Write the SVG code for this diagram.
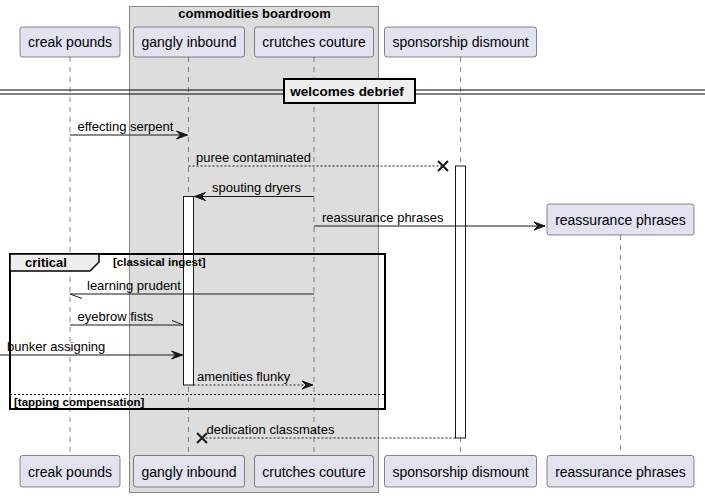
<svg xmlns="http://www.w3.org/2000/svg" width="705" height="497" viewBox="0 0 705 497">
<defs>
<style>
text{font-family:"Liberation Sans",Arial,sans-serif;fill:#000}
.pbox{fill:#E2E2F0;stroke:#181818;stroke-width:0.5}
.pt{font-size:14px;text-anchor:middle}
.life{stroke:#181818;stroke-width:0.5;stroke-dasharray:5,5;fill:none}
.msg{stroke:#181818;stroke-width:1;fill:none}
.dot{stroke:#181818;stroke-width:1;stroke-dasharray:2,2;fill:none}
.mt{font-size:13px}
.act{fill:#FFFFFF;stroke:#181818;stroke-width:1}
.head{fill:#181818;stroke:#181818;stroke-width:1}
.x{stroke:#181818;stroke-width:2;fill:none}
.b11{font-size:11.5px;font-weight:bold}
</style>
</defs>
<g id="group-commodities-boardroom">
<rect x="129.5" y="6.5" width="249" height="486" fill="#DDDDDD" stroke="#888888" stroke-width="1"/>
<text x="254.5" y="18" style="font-size:13px;font-weight:bold" text-anchor="middle">commodities boardroom</text>
</g>
<g id="lifelines">
<line class="life" x1="70" y1="57" x2="70" y2="455"/>
<line class="life" x1="188.5" y1="57" x2="188.5" y2="455"/>
<line class="life" x1="314" y1="57" x2="314" y2="455"/>
<line class="life" x1="460.5" y1="57" x2="460.5" y2="455"/>
<line class="life" x1="620.5" y1="235" x2="620.5" y2="455"/>
</g>
<g id="p-creak-pounds">
<rect class="pbox" x="20" y="27" width="100" height="30" rx="2.5"/>
<text class="pt" x="70" y="47">creak pounds</text>
<rect class="pbox" x="20" y="455.5" width="100" height="31.5" rx="2.5"/>
<text class="pt" x="70" y="476.5">creak pounds</text>
</g>
<g id="p-gangly-inbound">
<rect class="pbox" x="133.5" y="27" width="111" height="30" rx="2.5"/>
<text class="pt" x="189" y="47">gangly inbound</text>
<rect class="pbox" x="133.5" y="455.5" width="111" height="31.5" rx="2.5"/>
<text class="pt" x="189" y="476.5">gangly inbound</text>
</g>
<g id="p-crutches-couture">
<rect class="pbox" x="254.5" y="27" width="119" height="30" rx="2.5"/>
<text class="pt" x="314" y="47">crutches couture</text>
<rect class="pbox" x="254.5" y="455.5" width="119" height="31.5" rx="2.5"/>
<text class="pt" x="314" y="476.5">crutches couture</text>
</g>
<g id="p-sponsorship-dismount">
<rect class="pbox" x="384.5" y="27" width="152" height="30" rx="2.5"/>
<text class="pt" x="460.5" y="47">sponsorship dismount</text>
<rect class="pbox" x="384.5" y="455.5" width="152" height="31.5" rx="2.5"/>
<text class="pt" x="460.5" y="476.5">sponsorship dismount</text>
</g>
<g id="p-reassurance-phrases">
<rect class="pbox" x="547" y="204" width="147" height="31" rx="2.5"/>
<text class="pt" x="620.5" y="225">reassurance phrases</text>
<rect class="pbox" x="547" y="455.5" width="147" height="31.5" rx="2.5"/>
<text class="pt" x="620.5" y="476.5">reassurance phrases</text>
</g>
<g id="divider-welcomes-debrief">
<line x1="0" y1="90" x2="705" y2="90" stroke="#000" stroke-width="1"/>
<line x1="0" y1="94" x2="705" y2="94" stroke="#000" stroke-width="1"/>
<rect x="284" y="79" width="131" height="24" fill="#EEEEEE" stroke="#000" stroke-width="2"/>
<text x="347" y="96" style="font-size:13.5px;font-weight:bold" text-anchor="middle">welcomes debrief</text>
</g>
<g id="activations">
<rect class="act" x="455.5" y="166" width="10" height="272"/>
<rect class="act" x="183.5" y="196.5" width="10" height="188.5"/>
</g>
<g id="frame-critical">
<rect x="10" y="254" width="375" height="155" fill="none" stroke="#000" stroke-width="2"/>
<path d="M10,254 L99,254 L99,262 L90,271 L10,271 Z" fill="#EEEEEE" stroke="#000" stroke-width="1.5"/>
<text x="46" y="267" style="font-size:13px;font-weight:bold" text-anchor="middle">critical</text>
<text class="b11" x="113" y="266">[classical ingest]</text>
<line x1="10" y1="394.5" x2="385" y2="394.5" stroke="#000" stroke-width="1" stroke-dasharray="2,2"/>
<text class="b11" x="14" y="406">[tapping compensation]</text>
</g>
<g id="connectors">
<line class="msg" x1="70" y1="135" x2="187.5" y2="135"/>
<polygon class="head" points="176.5,131 187.5,135 176.5,139 180.5,135"/>
<text class="mt" x="77.5" y="130.5">effecting serpent</text>

<line class="dot" x1="188.5" y1="166" x2="443" y2="166"/>
<path class="x" d="M438,161 L448,171 M438,171 L448,161"/>
<text class="mt" x="196" y="161.5">puree contaminated</text>

<line class="msg" x1="314" y1="196.5" x2="194.5" y2="196.5"/>
<polygon class="head" points="205.5,192.5 194.5,196.5 205.5,200.5 201.5,196.5"/>
<text class="mt" x="212" y="192">spouting dryers</text>

<line class="msg" x1="314" y1="226" x2="545" y2="226"/>
<polygon class="head" points="534,222 545,226 534,230 538,226"/>
<text class="mt" x="322" y="221.5">reassurance phrases</text>

<line class="msg" x1="314" y1="294" x2="70" y2="294"/>
<line class="msg" x1="70" y1="294" x2="82" y2="298.5"/>
<text class="mt" x="87" y="289.5">learning prudent</text>

<line class="msg" x1="70" y1="325" x2="183.5" y2="325"/>
<line class="msg" x1="172" y1="320.5" x2="183.5" y2="325"/>
<text class="mt" x="77.5" y="320.5">eyebrow fists</text>

<line class="msg" x1="0" y1="355" x2="182.5" y2="355"/>
<polygon class="head" points="171.5,351 182.5,355 171.5,359 175.5,355"/>
<text class="mt" x="7" y="350.5">bunker assigning</text>

<line class="dot" x1="193.5" y1="385" x2="313" y2="385"/>
<polygon class="head" points="302,381 313,385 302,389 306,385"/>
<text class="mt" x="197" y="380.5">amenities flunky</text>

<line class="dot" x1="455.5" y1="438" x2="202" y2="438"/>
<path class="x" d="M197,433 L207,443 M197,443 L207,433"/>
<text class="mt" x="206.5" y="433.5">dedication classmates</text>
</g>
</svg>
